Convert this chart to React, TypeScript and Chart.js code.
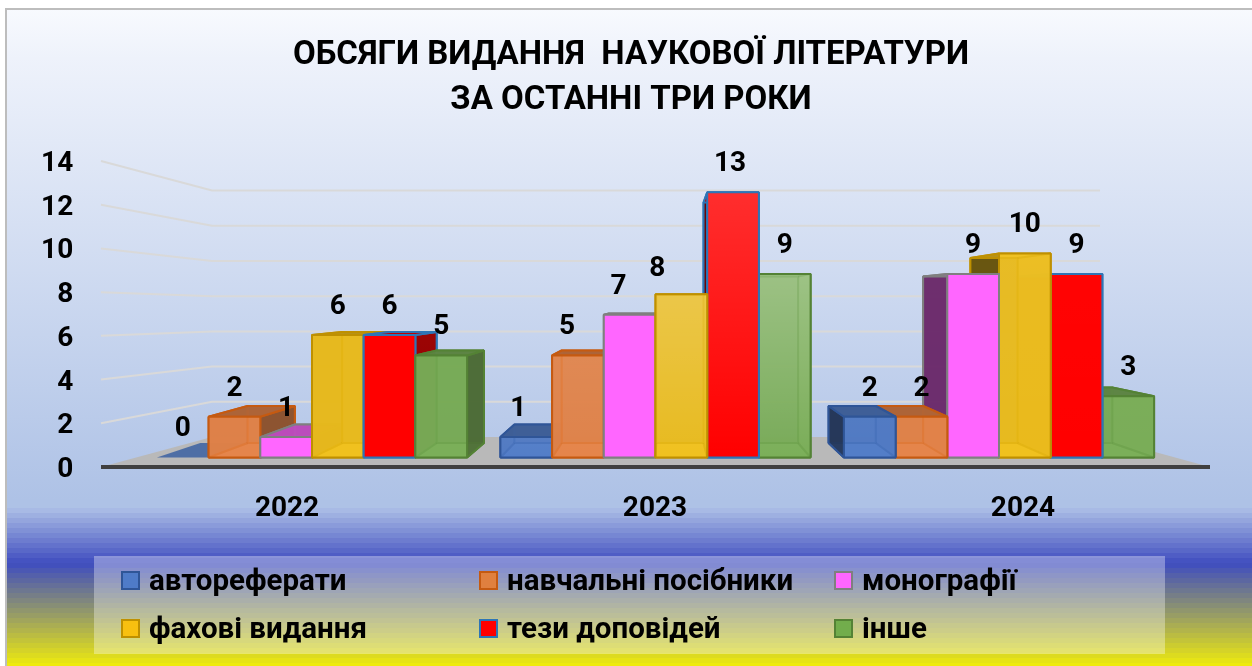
import React, { useEffect, useRef } from "react";
import { Chart, registerables } from "chart.js";

Chart.register(...registerables);

const WIDTH = 1252;
const HEIGHT = 666;
const FONT = "Roboto, 'Noto Sans', sans-serif";

const titleLines = ["ОБСЯГИ ВИДАННЯ  НАУКОВОЇ ЛІТЕРАТУРИ", "ЗА ОСТАННІ ТРИ РОКИ"];
const years = ["2022", "2023", "2024"];
const seriesNames = ["автореферати", "навчальні посібники", "монографії", "фахові видання", "тези доповідей", "інше"];
const avtoreferaty = [0, 1, 2];
const posibnyky = [2, 5, 2];
const monohrafii = [1, 7, 9];
const fakhovi = [6, 8, 10];
const tezy = [6, 13, 9];
const inshe = [5, 9, 3];
const seriesValues = [avtoreferaty, posibnyky, monohrafii, fakhovi, tezy, inshe];
const yTicks = [0, 2, 4, 6, 8, 10, 12, 14];

// styles
const rgb = [[84, 128, 204], [234, 135, 75], [255, 102, 255], [246, 197, 30], [255, 0, 0], [125, 178, 90]];
const swatch = ["#4F7BC8", "#E0803F", "#FF66FF", "#F8C010", "#FF0000", "#72AD4C"];
const borders = ["#2F5597", "#C55A11", "#7F7F7F", "#BF9000", "#2E75B6", "#548235"];
const frontAlpha = [0.9, 0.9, 1, 0.88, 1, 0.9];
const gloss = [0, 0.3, 0.03];
const glossBySeries = [1, 0.5, 0, 1, 0.6, 1.3];
const labelNudgeX = [[0, 0, 0, 0, 0, 0], [-8, -11, -11, -24, -3, 0], [0, 0, 0, 0, 0, 0]];
const labelNudgeY = [[0, 0, 0, 0, 0, 0], [0, 0, 0, 3, 0, 0], [0, 0, 0, 0, 0, 0]];

// perspective furniture
const AXIS_L = 101;
const AXIS_R = 1210;
const WALL_L = 212;
const WALL_R = 1100;
const DEPTH_K = 0.9145;
const DEPTH_C = 56.8;
const VANISH_X = 664;

const css = (c: number[], shade: number, a: number) =>
  `rgba(${Math.round(c[0] * shade)},${Math.round(c[1] * shade)},${Math.round(c[2] * shade)},${a})`;

function poly(ctx: CanvasRenderingContext2D, pts: number[][], fill: any, stroke?: string, lw = 2) {
  ctx.beginPath();
  pts.forEach((p, i) => (i ? ctx.lineTo(p[0], p[1]) : ctx.moveTo(p[0], p[1])));
  ctx.closePath();
  if (fill) {
    ctx.fillStyle = fill;
    ctx.fill();
  }
  if (stroke) {
    ctx.strokeStyle = stroke;
    ctx.lineWidth = lw;
    ctx.lineJoin = "bevel";
    ctx.stroke();
  }
}

const lerp = (a: number[], b: number[], t: number) => a.map((v, i) => Math.round(v + (b[i] - v) * t));

const backgroundPlugin = {
  id: "paperBackground",
  beforeDraw(chart: any) {
    const ctx: CanvasRenderingContext2D = chart.ctx;
    ctx.save();
    ctx.fillStyle = "#ffffff";
    ctx.fillRect(0, 0, WIDTH, HEIGHT);
    const g = ctx.createLinearGradient(0, 9, 0, 500);
    g.addColorStop(0, "#F8FAFE");
    g.addColorStop(0.1, "#EEF2FB");
    g.addColorStop(1, "#AEC2E6");
    ctx.fillStyle = g;
    ctx.fillRect(7, 9, WIDTH - 7, 500);
    const stops: [number, number[]][] = [
      [508, [172, 190, 230]],
      [563, [63, 77, 191]],
      [666, [240, 236, 12]],
    ];
    for (let y = 508; y < HEIGHT; y += 5) {
      const s = y < 563 ? 0 : 1;
      const t = Math.min(1, (y + 2 - stops[s][0]) / (stops[s + 1][0] - stops[s][0]));
      const c = lerp(stops[s][1], stops[s + 1][1], t);
      ctx.fillStyle = `rgb(${c[0]},${c[1]},${c[2]})`;
      ctx.fillRect(7, y, WIDTH - 7, 5);
    }
    ctx.fillStyle = "#BDBDBD";
    ctx.fillRect(5, 8, 2, HEIGHT - 8);
    ctx.fillRect(5, 8, WIDTH - 5, 2);
    ctx.restore();
  },
  afterDraw(chart: any) {
    const ctx: CanvasRenderingContext2D = chart.ctx;
    ctx.save();
    ctx.fillStyle = "rgba(255,255,255,0.34)";
    ctx.fillRect(94, 556, 1071, 98);
    const colX = [122, 480, 835];
    const rowY = [581, 629];
    chart.data.datasets.forEach((ds: any, i: number) => {
      const x = colX[i % 3];
      const y = rowY[Math.floor(i / 3)];
      ctx.fillStyle = swatch[i];
      ctx.strokeStyle = borders[i];
      ctx.lineWidth = 2;
      ctx.fillRect(x, y - 9, 17, 17);
      ctx.strokeRect(x, y - 9, 17, 17);
      ctx.fillStyle = "#000";
      ctx.font = `bold 29.5px ${FONT}`;
      ctx.textAlign = "left";
      ctx.textBaseline = "middle";
      ctx.fillText(ds.label, x + 27, y + 2);
    });
    ctx.restore();
  },
};

const depthPlugin = {
  id: "perspectiveBars",
  beforeDatasetsDraw(chart: any) {
    const ctx: CanvasRenderingContext2D = chart.ctx;
    const { yBar, yWall, yDepth, yAxis } = chart.scales;
    ctx.save();

    // floor
    const frontY = yAxis.getPixelForValue(0);
    const backY = yWall.getPixelForValue(0);
    poly(ctx, [[AXIS_L, frontY], [AXIS_R, frontY], [WALL_R, backY], [WALL_L, backY]], "#B9B9B9");

    // walls
    ctx.strokeStyle = "#D9D9D9";
    ctx.lineWidth = 2;
    yTicks.filter((t) => t > 0).forEach((t) => {
      ctx.beginPath();
      ctx.moveTo(AXIS_L, yAxis.getPixelForValue(t));
      ctx.lineTo(WALL_L, yWall.getPixelForValue(t));
      ctx.lineTo(WALL_R, yWall.getPixelForValue(t));
      ctx.stroke();
    });

    // axis line
    ctx.fillStyle = "#404040";
    ctx.fillRect(AXIS_L, frontY - 2, AXIS_R - AXIS_L, 4);

    // bars, painted from the outside toward the vanishing point
    const bars: any[] = [];
    chart.data.datasets.forEach((ds: any, s: number) => {
      chart.getDatasetMeta(s).data.forEach((el: any, c: number) => {
        bars.push({ s, c, v: ds.data[c], el, d: Math.abs(el.x - VANISH_X) });
      });
    });
    bars.sort((a, b) => b.d - a.d);

    const bx = (x: number) => DEPTH_C + DEPTH_K * x;
    bars.forEach(({ s, c, v, el }) => {
      const l = el.x - el.width / 2;
      const r = el.x + el.width / 2;
      const top = yBar.getPixelForValue(v);
      const base = yBar.getPixelForValue(0);
      const bTop = yDepth.getPixelForValue(v);
      const bBase = yDepth.getPixelForValue(0);
      const bl = bx(l);
      const br = bx(r);
      const col = rgb[s];
      const line = borders[s];
      const h = v > 0;
      if (h) poly(ctx, [[bl, bBase], [br, bBase], [br, bTop], [bl, bTop]], css(col, 0.45, 0.85), line);
      poly(ctx, [[l, base], [r, base], [br, bBase], [bl, bBase]], css(col, 0.8, 0.9), h ? line : undefined);
      if (h) {
        poly(ctx, [[l, base], [l, top], [bl, bTop], [bl, bBase]], css(col, 0.42, 0.88), line);
        poly(ctx, [[r, base], [r, top], [br, bTop], [br, bBase]], css(col, 0.62, 0.88), line);
        poly(ctx, [[l, top], [r, top], [br, bTop], [bl, bTop]], css(col, 0.75, 0.95), line);
        const front = [[l, base], [r, base], [r, top], [l, top]];
        poly(ctx, front, css(col, 1, frontAlpha[s]));
        const a = gloss[c] * glossBySeries[s];
        if (a > 0) {
          const g = ctx.createLinearGradient(0, 190, 0, base);
          g.addColorStop(0, `rgba(255,255,255,${a})`);
          g.addColorStop(1, "rgba(255,255,255,0)");
          poly(ctx, front, g);
        }
        if (frontAlpha[s] < 1) {
          // the box's far edges showing through the glassy front
          ctx.save();
          ctx.beginPath();
          ctx.rect(l, top, r - l, base - top);
          ctx.clip();
          ctx.globalAlpha = 0.22;
          poly(ctx, [[bl, bBase], [br, bBase], [br, bTop], [bl, bTop]], null, line);
          poly(ctx, [[l, base], [bl, bBase]], null, line);
          poly(ctx, [[r, base], [br, bBase]], null, line);
          poly(ctx, [[r, top], [br, bTop]], null, line);
          poly(ctx, [[l, top], [bl, bTop]], null, line);
          ctx.restore();
        }
        poly(ctx, front, null, line);
      }
    });

    // value labels
    ctx.fillStyle = "#000";
    ctx.font = `bold 28px ${FONT}`;
    ctx.textAlign = "center";
    ctx.textBaseline = "middle";
    bars.forEach(({ s, c, v, el }) => {
      ctx.fillText(String(v), el.x + labelNudgeX[c][s], yBar.getPixelForValue(v) - 28 + labelNudgeY[c][s]);
    });
    ctx.restore();
    return false;
  },
};

export default function App() {
  const ref = useRef<HTMLCanvasElement | null>(null);
  useEffect(() => {
    if (!ref.current) return;
    const tickFont = { family: FONT, size: 28, weight: "bold" as const };
    const chart = new Chart(ref.current, {
      type: "bar",
      data: {
        labels: years,
        datasets: seriesNames.map((name, i) => ({
          label: name,
          data: seriesValues[i],
          xAxisID: "xBar",
          yAxisID: "yBar",
          backgroundColor: css(rgb[i], 1, frontAlpha[i]),
          borderColor: borders[i],
          borderWidth: 2,
          categoryPercentage: 0.903,
          barPercentage: 1,
        })),
      },
      options: {
        animation: false,
        responsive: false,
        devicePixelRatio: 1,
        layout: { padding: { left: 10, right: 0, top: 0, bottom: 0 } },
        plugins: {
          legend: { display: false },
          tooltip: { enabled: false },
          title: {
            display: true,
            text: titleLines,
            color: "#000",
            font: { family: FONT, size: 33, weight: "bold", lineHeight: 45 / 33 },
            padding: { top: 33.5, bottom: 37.5 },
          },
        },
        scales: {
          xBar: { type: "category", display: false, offset: true, grid: { display: false } },
          yBar: { type: "linear", display: false, min: -0.4657, max: 14.534 },
          yWall: { type: "linear", display: false, min: -1.7045, max: 15.68 },
          yDepth: { type: "linear", display: false, min: -1.297, max: 15.243 },
          yRightSpace: {
            type: "linear",
            position: "right",
            min: 0,
            max: 14,
            afterFit: (s: any) => { s.width = 81.25; },
            grid: { display: false, drawTicks: false },
            border: { display: false },
            ticks: { display: false },
          },
          yAxis: {
            type: "linear",
            position: "left",
            min: 0,
            max: 14,
            afterFit: (s: any) => { s.width = 130.25; },
            afterBuildTicks: (s: any) => { s.ticks = yTicks.map((value) => ({ value })); },
            grid: { display: false, drawTicks: false },
            border: { display: false },
            ticks: { color: "#000", font: tickFont, padding: 67, labelOffset: 3, autoSkip: false, callback: (v: any) => String(v) },
          },
          xLabels: {
            type: "linear",
            position: "bottom",
            offset: false,
            min: -0.3988,
            max: 2.4015,
            afterFit: (s: any) => { s.height = 199; },
            afterBuildTicks: (s: any) => { s.ticks = years.map((_, value) => ({ value })); },
            grid: { display: false, drawTicks: false, offset: false },
            border: { display: false },
            ticks: {
              color: "#000",
              font: tickFont,
              padding: 25,
              autoSkip: false,
              maxRotation: 0,
              callback: (v: any) => years[v as number],
            },
          },
        },
      } as any,
      plugins: [backgroundPlugin, depthPlugin],
    });
    return () => chart.destroy();
  }, []);
  return (
    <div style={{ position: "fixed", left: 0, top: 0, width: WIDTH, height: HEIGHT }}>
      <canvas ref={ref} width={WIDTH} height={HEIGHT} style={{ display: "block" }} />
    </div>
  );
}
